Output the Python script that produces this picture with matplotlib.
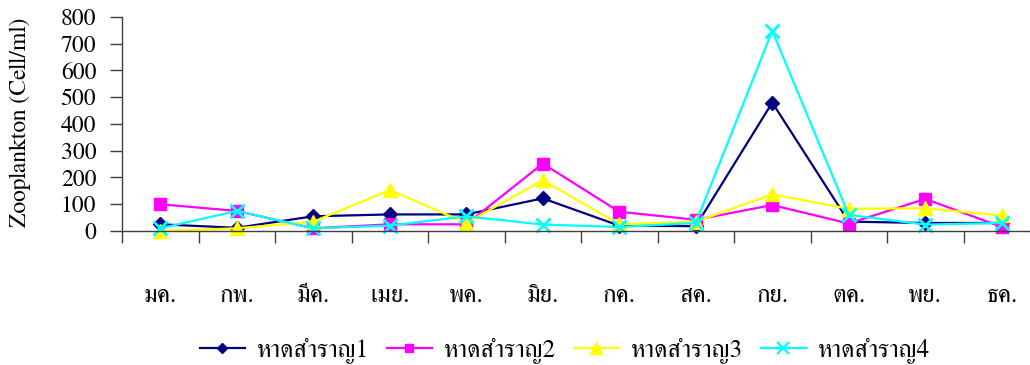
import matplotlib
matplotlib.use("Agg")
import matplotlib.pyplot as plt
import numpy as np

months = ["มค.", "กพ.", "มีค.", "เมย.", "พค.", "มิย.", "กค.", "สค.", "กย.", "ตค.", "พย.", "ธค."]
site1 = [25, 12, 55, 62, 62, 122, 20, 18, 480, 35, 30, 30]
site2 = [100, 75, 10, 25, 25, 252, 72, 42, 97, 28, 120, 15]
site3 = [0, 10, 35, 153, 30, 190, 25, 35, 137, 83, 85, 58]
site4 = [10, 75, 10, 20, 55, 24, 15, 30, 748, 60, 24, 30]
labels = ["หาดสำราญ1", "หาดสำราญ2", "หาดสำราญ3", "หาดสำราญ4"]
yticks = [0, 100, 200, 300, 400, 500, 600, 700, 800]

plt.rcParams["font.family"] = ["FreeSerif", "Liberation Serif", "DejaVu Sans"]
plt.rcParams["font.size"] = 17
axis_col = "#404040"

W, H = 1030, 365
fig = plt.figure(figsize=(W / 100, H / 100), dpi=100)
x0, x1 = 122, 1040
y0, y1 = 231, 17
ax = fig.add_axes([x0 / W, 1 - y0 / H, (x1 - x0) / W, (y0 - y1) / H])

x = np.arange(len(months))
styles = [
    (site1, "#000080", "D", 7, None),
    (site2, "#FF00FF", "s", 8, None),
    (site3, "#FFFF00", "^", 10, None),
    (site4, "#00FFFF", "x", 10, 2),
]
for (vals, col, mk, ms, mew), lab in zip(styles, labels):
    kw = dict(color=col, marker=mk, markersize=ms, linewidth=1.6, label=lab, clip_on=False)
    if mew:
        kw["markeredgewidth"] = mew
    else:
        kw["markeredgecolor"] = col
    ax.plot(x, vals, **kw)

ax.set_xlim(-0.5, len(months) - 0.5)
ax.set_ylim(0, 800)
ax.set_yticks(yticks)
ax.set_xticks(x)
ax.set_xticklabels(months, fontsize=18)
ax.set_xticks(np.arange(-0.5, len(months), 1.0), minor=True)
ax.tick_params(axis="x", which="major", length=0, pad=38)
ax.tick_params(axis="x", which="minor", length=8.5, color=axis_col, width=1)
ax.tick_params(axis="y", length=8.5, color=axis_col, width=1, labelsize=17, pad=10)
for s in ("top", "right"):
    ax.spines[s].set_visible(False)
for s in ("left", "bottom"):
    ax.spines[s].set_color(axis_col)
    ax.spines[s].set_linewidth(1.0)

fig.text(20 / W, 1 - 122 / H, "Zooplankton (Cell/ml)", rotation=90,
         ha="center", va="center", fontsize=17)

# legend keys with slightly smaller markers than the plotted series
leg_handles = []
for (vals, col, mk, ms, mew) in styles:
    kw = dict(color=col, marker=mk, markersize=ms * 0.8, linewidth=1.6)
    if mew:
        kw["markeredgewidth"] = mew * 0.8
    else:
        kw["markeredgecolor"] = col
    leg_handles.append(matplotlib.lines.Line2D([], [], **kw))

fig.legend(handles=leg_handles, labels=labels, loc="center", ncol=4,
           bbox_to_anchor=(565 / W, 1 - 351 / H), frameon=False,
           handlelength=1.8, handletextpad=0.5, columnspacing=0.7, fontsize=18,
           borderpad=0, borderaxespad=0)

fig.savefig("out.png", dpi=100)
